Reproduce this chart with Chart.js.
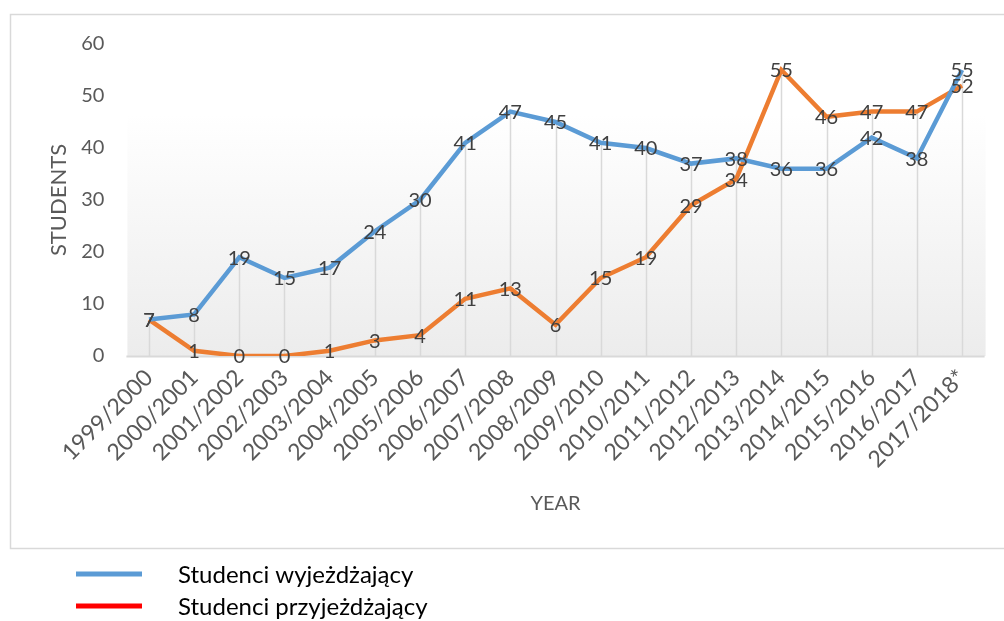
<!DOCTYPE html>
<html>
<head>
<meta charset="utf-8">
<script src="https://cdn.jsdelivr.net/npm/chart.js@4"></script>
<style>
    html, body { margin: 0; padding: 0; background: #ffffff; }
    #wrap { width: 1004px; height: 621px; }
</style>
</head>
<body>
<div id="wrap"><canvas id="students-chart"></canvas></div>
<script>
// Academic years on the category axis
const years = [
    '1999/2000', '2000/2001', '2001/2002', '2002/2003', '2003/2004', '2004/2005',
    '2005/2006', '2006/2007', '2007/2008', '2008/2009', '2009/2010', '2010/2011',
    '2011/2012', '2012/2013', '2013/2014', '2014/2015', '2015/2016', '2016/2017',
    '2017/2018*'
];

// Outgoing students per year
const outgoing = [7, 8, 19, 15, 17, 24, 30, 41, 47, 45, 41, 40, 37, 38, 36, 36, 42, 38, 55];

// Incoming students per year
const incoming = [7, 1, 0, 0, 1, 3, 4, 11, 13, 6, 15, 19, 29, 34, 55, 46, 47, 47, 52];

const yTicks = [0, 10, 20, 30, 40, 50, 60];

const FONT = 'Lato, "Open Sans", sans-serif';
const TEXT = '#595959';

// Frame, back wall and drop lines behind the series
const backdropPlugin = {
    id: 'backdrop',
    beforeDraw(chart) {
        const ctx = chart.ctx;
        const area = chart.chartArea;
        const y = chart.scales.y;
        ctx.save();
        ctx.fillStyle = '#ffffff';
        ctx.fillRect(0, 0, chart.width, chart.height);

        ctx.strokeStyle = '#d9d9d9';
        ctx.lineWidth = 1.5;
        ctx.strokeRect(10.5, 14.5, chart.width, 534);

        const wallTop = y.getPixelForValue(46.5);
        const grad = ctx.createLinearGradient(0, wallTop, 0, area.bottom);
        grad.addColorStop(0, '#ffffff');
        grad.addColorStop(1, '#ececec');
        ctx.fillStyle = grad;
        ctx.fillRect(area.left + 1, wallTop, area.right - area.left, area.bottom - wallTop);
        ctx.restore();
    },
    beforeDatasetsDraw(chart) {
        const ctx = chart.ctx;
        const x = chart.scales.x;
        const y = chart.scales.y;
        ctx.save();
        ctx.strokeStyle = '#d9d9d9';
        ctx.lineWidth = 1.5;
        years.forEach((label, i) => {
            const top = Math.max(outgoing[i], incoming[i]);
            const px = Math.round(x.getPixelForValue(i)) + 0.5;
            ctx.beginPath();
            ctx.moveTo(px, y.getPixelForValue(top));
            ctx.lineTo(px, y.getPixelForValue(0));
            ctx.stroke();
        });
        // floor line
        ctx.beginPath();
        ctx.moveTo(chart.chartArea.left, y.getPixelForValue(0) + 0.5);
        ctx.lineTo(chart.chartArea.right, y.getPixelForValue(0) + 0.5);
        ctx.lineWidth = 2;
        ctx.stroke();
        ctx.restore();
    }
};

// Value labels centred on each point, plus the legend under the frame
const labelsPlugin = {
    id: 'valueLabels',
    afterDatasetsDraw(chart) {
        const ctx = chart.ctx;
        ctx.save();
        ctx.font = '20px ' + FONT;
        ctx.fillStyle = '#404040';
        ctx.textAlign = 'center';
        ctx.textBaseline = 'middle';
        chart.data.datasets.forEach((ds, di) => {
            const meta = chart.getDatasetMeta(di);
            meta.data.forEach((pt, i) => {
                ctx.fillText(String(ds.data[i]), pt.x, pt.y + 1);
            });
        });
        ctx.restore();
    },
    afterDraw(chart) {
        const ctx = chart.ctx;
        const items = [
            { text: 'Studenci wyjeżdżający', color: '#5b9bd5', y: 574 },
            { text: 'Studenci przyjeżdżający', color: '#ff0000', y: 606 }
        ];
        ctx.save();
        ctx.font = '24px ' + FONT;
        ctx.textBaseline = 'middle';
        items.forEach(item => {
            ctx.strokeStyle = item.color;
            ctx.lineWidth = 5;
            ctx.beginPath();
            ctx.moveTo(76, item.y);
            ctx.lineTo(142, item.y);
            ctx.stroke();
            ctx.fillStyle = '#000000';
            ctx.fillText(item.text, 178, item.y + 1);
        });
        ctx.restore();
    }
};

const ctx = document.getElementById('students-chart').getContext('2d');

new Chart(ctx, {
    type: 'line',
    data: {
        labels: years,
        datasets: [
            {
                label: 'Studenci wyjeżdżający',
                data: outgoing,
                borderColor: '#5b9bd5',
                borderWidth: 4.5,
                pointRadius: 0,
                tension: 0,
                fill: false
            },
            {
                label: 'Studenci przyjeżdżający',
                data: incoming,
                borderColor: '#ed7d31',
                borderWidth: 4.5,
                pointRadius: 0,
                tension: 0,
                fill: false
            }
        ]
    },
    options: {
        responsive: true,
        maintainAspectRatio: false,
        animation: false,
        layout: {
            padding: { left: 46, right: 19.4, top: 44, bottom: 105 }
        },
        scales: {
            x: {
                offset: true,
                grid: { display: false, drawTicks: false },
                border: { display: false },
                ticks: {
                    maxRotation: 45,
                    minRotation: 45,
                    autoSkip: false,
                    padding: 8,
                    color: TEXT,
                    font: { family: FONT, size: 23 }
                },
                title: {
                    display: true,
                    text: 'YEAR',
                    color: TEXT,
                    padding: 0,
                    font: { family: FONT, size: 20 }
                },
                afterFit(scale) {
                    scale.height = 160;
                }
            },
            y: {
                min: 0,
                max: 60,
                afterBuildTicks(scale) {
                    scale.ticks = yTicks.map(v => ({ value: v }));
                },
                grid: { display: false, drawTicks: false },
                border: { display: false },
                ticks: {
                    padding: 22,
                    color: TEXT,
                    font: { family: FONT, size: 20 }
                },
                title: {
                    display: true,
                    text: 'STUDENTS',
                    color: TEXT,
                    padding: { top: 0, bottom: 0 },
                    font: { family: FONT, size: 22 }
                },
                afterFit(scale) {
                    scale.width = 80.4;
                }
            }
        },
        plugins: {
            legend: { display: false },
            tooltip: { enabled: false }
        }
    },
    plugins: [backdropPlugin, labelsPlugin]
});
</script>
</body>
</html>
